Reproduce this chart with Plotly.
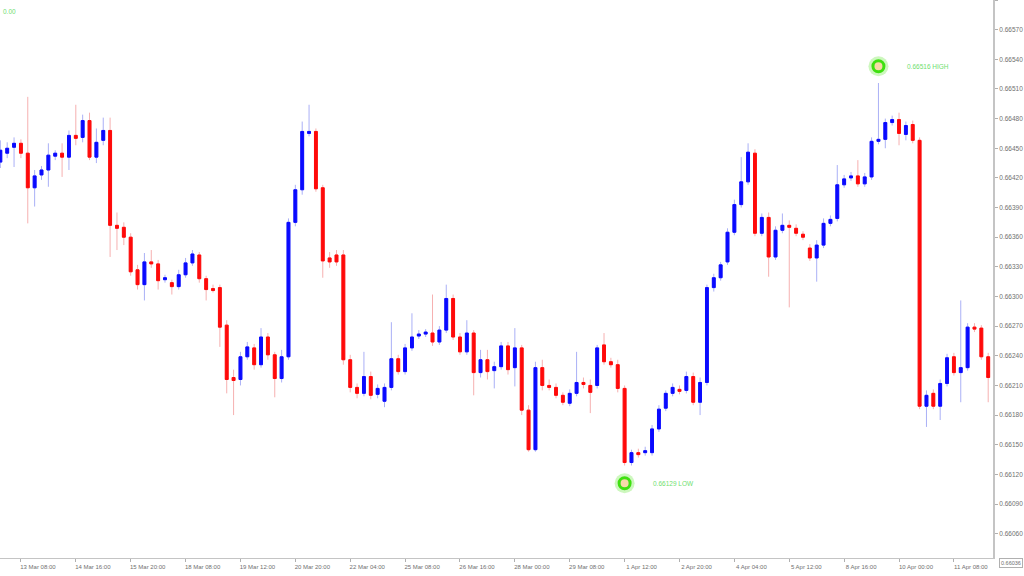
import plotly.graph_objects as go

# ---- data (H4 candles) ----
opens = [0.66436,0.66445,0.66451,0.66455,0.66445,0.66410,0.66423,0.66428,0.66442,0.66445,
0.66441,0.66463,0.66461,0.66478,0.66441,0.66458,0.66468,0.66372,0.66370,0.66360,
0.66327,0.66312,0.66335,0.66333,0.66317,0.66314,0.66310,0.66322,0.66334,0.66342,
0.66318,0.66308,0.66309,0.66271,0.66218,0.66216,0.66239,0.66248,0.66231,0.66259,
0.66241,0.66217,0.66239,0.66375,0.66408,0.66465,0.66467,0.66410,0.66339,0.66342,
0.66342,0.66236,0.66208,0.66202,0.66219,0.66201,0.66194,0.66208,0.66237,0.66224,
0.66248,0.66260,0.66262,0.66263,0.66254,0.66266,0.66298,0.66259,0.66244,0.66263,
0.66223,0.66236,0.66225,0.66229,0.66250,0.66228,0.66248,0.66185,0.66145,0.66228,
0.66210,0.66208,0.66200,0.66192,0.66202,0.66213,0.66210,0.66210,0.66251,0.66234,
0.66231,0.66207,0.66132,0.66142,0.66142,0.66142,0.66166,0.66187,0.66202,0.66206,
0.66205,0.66219,0.66193,0.66213,0.66309,0.66319,0.66335,0.66365,0.66393,0.66416,
0.66445,0.66364,0.66380,0.66340,0.66367,0.66372,0.66369,0.66363,0.66349,0.66339,
0.66352,0.66374,0.66379,0.66413,0.66420,0.66422,0.66414,0.66421,0.66457,0.66459,
0.66476,0.66479,0.66464,0.66474,0.66458,0.66189,0.66202,0.66189,0.66212,0.66239,
0.66223,0.66228,0.66269,0.66268,0.66239]
highs = [0.66458,0.66456,0.66461,0.66459,0.66502,0.66428,0.66432,0.66455,0.66448,0.66455,
0.66468,0.66494,0.66484,0.66486,0.66470,0.66481,0.66481,0.66385,0.66375,0.66364,
0.66332,0.66344,0.66347,0.66337,0.66322,0.66317,0.66327,0.66339,0.66347,0.66345,
0.66321,0.66312,0.66312,0.66276,0.66226,0.66244,0.66254,0.66252,0.66268,0.66263,
0.66244,0.66246,0.66379,0.66413,0.66477,0.66494,0.66470,0.66413,0.66345,0.66347,
0.66347,0.66241,0.66212,0.66244,0.66224,0.66211,0.66212,0.66274,0.66241,0.66252,
0.66283,0.66266,0.66267,0.66302,0.66270,0.66312,0.66302,0.66263,0.66276,0.66266,
0.66246,0.66246,0.66234,0.66254,0.66254,0.66268,0.66251,0.66190,0.66234,0.66236,
0.66216,0.66212,0.66203,0.66206,0.66244,0.66218,0.66216,0.66251,0.66263,0.66238,
0.66236,0.66210,0.66145,0.66146,0.66148,0.66170,0.66190,0.66205,0.66212,0.66210,
0.66224,0.66223,0.66218,0.66312,0.66323,0.66335,0.66369,0.66398,0.66441,0.66455,
0.66449,0.66384,0.66385,0.66371,0.66384,0.66377,0.66373,0.66366,0.66353,0.66357,
0.66379,0.66382,0.66433,0.66423,0.66426,0.66438,0.66425,0.66461,0.66516,0.66480,
0.66483,0.66486,0.66477,0.66478,0.66461,0.66205,0.66206,0.66216,0.66242,0.66243,
0.66296,0.66273,0.66273,0.66271,0.66243]
lows = [0.66430,0.66440,0.66431,0.66440,0.66374,0.66391,0.66418,0.66411,0.66438,0.66421,
0.66428,0.66453,0.66456,0.66438,0.66435,0.66453,0.66340,0.66347,0.66352,0.66321,
0.66307,0.66296,0.66329,0.66307,0.66314,0.66302,0.66307,0.66319,0.66331,0.66314,
0.66296,0.66304,0.66249,0.66202,0.66180,0.66210,0.66236,0.66226,0.66228,0.66236,
0.66198,0.66213,0.66236,0.66371,0.66403,0.66462,0.66406,0.66319,0.66329,0.66331,
0.66231,0.66203,0.66197,0.66199,0.66196,0.66197,0.66188,0.66205,0.66221,0.66221,
0.66245,0.66257,0.66259,0.66250,0.66251,0.66263,0.66256,0.66241,0.66241,0.66200,
0.66218,0.66216,0.66207,0.66226,0.66221,0.66209,0.66180,0.66143,0.66143,0.66205,
0.66205,0.66197,0.66190,0.66189,0.66199,0.66207,0.66182,0.66207,0.66231,0.66228,
0.66203,0.66129,0.66129,0.66137,0.66139,0.66139,0.66163,0.66184,0.66199,0.66201,
0.66202,0.66190,0.66180,0.66210,0.66305,0.66316,0.66332,0.66362,0.66390,0.66413,
0.66361,0.66361,0.66320,0.66337,0.66364,0.66289,0.66361,0.66357,0.66336,0.66315,
0.66349,0.66371,0.66376,0.66410,0.66417,0.66411,0.66411,0.66418,0.66454,0.66450,
0.66473,0.66453,0.66458,0.66455,0.66186,0.66168,0.66186,0.66175,0.66209,0.66220,
0.66193,0.66225,0.66264,0.66236,0.66193]
closes = [0.66448,0.66450,0.66455,0.66445,0.66410,0.66422,0.66428,0.66443,0.66445,0.66441,
0.66463,0.66460,0.66478,0.66441,0.66456,0.66468,0.66372,0.66369,0.66360,0.66325,
0.66312,0.66335,0.66333,0.66316,0.66319,0.66310,0.66322,0.66334,0.66343,0.66318,
0.66307,0.66306,0.66269,0.66216,0.66215,0.66239,0.66249,0.66231,0.66259,0.66241,
0.66217,0.66239,0.66375,0.66408,0.66467,0.66467,0.66409,0.66336,0.66335,0.66335,
0.66236,0.66208,0.66202,0.66219,0.66200,0.66207,0.66208,0.66237,0.66224,0.66248,
0.66259,0.66262,0.66264,0.66254,0.66266,0.66298,0.66259,0.66244,0.66263,0.66223,
0.66236,0.66224,0.66229,0.66250,0.66226,0.66248,0.66185,0.66145,0.66228,0.66210,
0.66208,0.66200,0.66193,0.66202,0.66213,0.66211,0.66203,0.66248,0.66234,0.66231,
0.66207,0.66132,0.66142,0.66140,0.66144,0.66166,0.66186,0.66202,0.66208,0.66204,
0.66219,0.66193,0.66213,0.66309,0.66319,0.66332,0.66365,0.66393,0.66416,0.66446,
0.66364,0.66380,0.66340,0.66367,0.66372,0.66370,0.66364,0.66360,0.66339,0.66352,
0.66374,0.66378,0.66413,0.66419,0.66422,0.66414,0.66421,0.66457,0.66459,0.66476,
0.66479,0.66465,0.66473,0.66458,0.66189,0.66200,0.66189,0.66212,0.66238,0.66223,
0.66228,0.66269,0.66267,0.66239,0.66218]

tick_bars = [3, 11, 19, 27, 35, 43, 51, 59, 67, 75, 83, 91, 99, 107, 115, 123, 131, 139]
tick_labels = ["13 Mar 08:00", "14 Mar 16:00", "15 Mar 20:00", "18 Mar 08:00", "19 Mar 12:00",
               "20 Mar 20:00", "22 Mar 04:00", "25 Mar 08:00", "26 Mar 16:00", "28 Mar 00:00",
               "29 Mar 08:00", "1 Apr 12:00", "2 Apr 20:00", "4 Apr 04:00", "5 Apr 12:00",
               "8 Apr 16:00", "10 Apr 00:00", "11 Apr 08:00"]
price_ticks = [0.66600, 0.66570, 0.66540, 0.66510, 0.66480, 0.66450, 0.66420, 0.66390,
               0.66360, 0.66330, 0.66300, 0.66270, 0.66240, 0.66210, 0.66180, 0.66150,
               0.66120, 0.66090, 0.66060]
y_range = [0.660354, 0.66600]
last_price_label = "0.66036"
corner_label = "0.00"

# extreme markers (bar index, marker price, label)
marker_bars = [128, 91]
marker_prices = [0.66533, 0.66111]
marker_texts = ["0.66516 HIGH", "0.66129 LOW"]

x = list(range(len(opens)))
body_hi = [max(o, c) for o, c in zip(opens, closes)]
body_lo = [min(o, c) for o, c in zip(opens, closes)]

BLUE = "#0a0aff"
RED = "#ff0a0a"

fig = go.Figure()
# wicks (faint)
fig.add_trace(go.Candlestick(
    x=x, open=opens, high=highs, low=lows, close=closes,
    increasing=dict(line=dict(color="#aab0f6", width=1), fillcolor="#aab0f6"),
    decreasing=dict(line=dict(color="#f6b0b0", width=1), fillcolor="#f6b0b0"),
    whiskerwidth=0, hoverinfo="skip", showlegend=False))
# bodies (solid)
fig.add_trace(go.Candlestick(
    x=x, open=opens, high=body_hi, low=body_lo, close=closes,
    increasing=dict(line=dict(color=BLUE, width=1), fillcolor=BLUE),
    decreasing=dict(line=dict(color=RED, width=1), fillcolor=RED),
    whiskerwidth=0, showlegend=False))

# markers for the extremes
fig.add_trace(go.Scatter(
    x=marker_bars, y=marker_prices, mode="markers",
    marker=dict(size=20, color="rgba(90,230,40,0.30)", line=dict(width=0)),
    showlegend=False, hoverinfo="skip"))
fig.add_trace(go.Scatter(
    x=marker_bars, y=marker_prices, mode="markers",
    marker=dict(size=11, color="#f7d9a8", line=dict(color="#3ee010", width=3)),
    showlegend=False, hoverinfo="skip"))

annotations = []
for b, p, t in zip(marker_bars, marker_prices, marker_texts):
    annotations.append(dict(x=b + 3.9, y=p, xref="x", yref="y", text=t, showarrow=False,
                            xanchor="left", yanchor="middle",
                            font=dict(size=6.5, color="#6fe06f", family="Liberation Sans")))
annotations.append(dict(x=1 / 993, y=1 - 12 / 558, xref="paper", yref="paper", text=corner_label,
                        showarrow=False, xanchor="left", yanchor="middle",
                        font=dict(size=6.5, color="#6fe06f", family="Liberation Sans")))
annotations.append(dict(x=1 + 18 / 993, y=-5 / 558, xref="paper", yref="paper",
                        text=last_price_label, showarrow=False, xanchor="center", yanchor="middle",
                        bordercolor="#b0b0b0", borderwidth=1, borderpad=1, bgcolor="white",
                        font=dict(size=5.5, color="#707070", family="Liberation Sans")))

fig.update_layout(
    width=1024, height=576,
    margin=dict(l=0, r=31, t=0, b=18),
    paper_bgcolor="white", plot_bgcolor="white",
    boxgap=0.4,
    showlegend=False,
    annotations=annotations,
    xaxis=dict(
        range=[-0.05, 144.7], rangeslider=dict(visible=False),
        tickmode="array", tickvals=tick_bars, ticktext=tick_labels,
        ticks="outside", ticklen=3, tickcolor="#b0b0b0", ticklabelshift=17,
        showline=True, linecolor="#c4c4c4", linewidth=1,
        showgrid=False, zeroline=False,
        tickfont=dict(size=6, color="#707070", family="Liberation Sans"),
    ),
    yaxis=dict(
        side="right", range=y_range,
        tickmode="array", tickvals=price_ticks,
        ticktext=[f"{v:.5f}" for v in price_ticks],
        ticks="outside", ticklen=3, tickcolor="#b0b0b0",
        showline=True, linecolor="#c4c4c4", linewidth=2,
        showgrid=False, zeroline=False,
        tickfont=dict(size=6.5, color="#707070", family="Liberation Sans"),
    ),
)

fig.write_html("out.html", post_script="document.body.style.margin='0';",
               config={"displayModeBar": False})
